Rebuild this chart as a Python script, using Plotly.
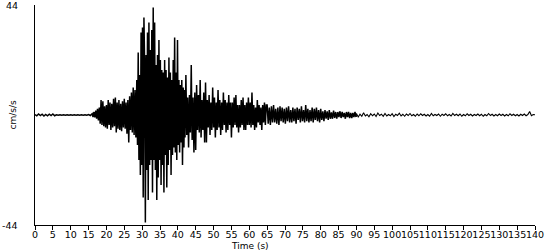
import numpy as np
import plotly.graph_objects as go

# ---- data: acceleration samples (cm/s/s) ----
# each segment: start time (s), sample step (s), values
pre_start, pre_dt = 0.0, 0.5
pre_event = [0.2, -0.3, 0.4, -0.2, 0.3, -0.4, 0.2, -0.3, 0.3, -0.2, 0.4, -0.3,
             0.1, -0.1, 0.1, -0.1, 0.1, -0.1, 0.1, -0.1, 0.1, -0.1, 0.1, -0.1,
             0.1, -0.1, 0.1, -0.1, 0.1, -0.1, 0.2, -0.2]

onset_start, onset_dt = 16.0, 0.25
onset = [0.5, -0.8, 1.2, -1.0, 1.8, -1.5, 2.5, -2.2, 3.0, -3.5, 6.0, -4.0,
         5.5, -4.5, 3.5, -5.0, 4.0, -5.5, 6.0, -4.0, 5.0, -6.0, 4.5, -5.0,
         6.5, -4.5, 7.0, -7.0, 5.0, -5.5, 6.0, -6.0, 4.5, -6.5, 5.5, -5.0,
         6.5, -5.5, 5.0, -7.5, 6.0, -11.0, 7.5, -6.0, 9.0, -7.0, 11.0, -8.0,
         10.0, -9.0]

strong_start, strong_dt = 28.5, 0.2
strong = [14, -12, 25, -18, 16, -24, 33, -20, 35, -33, 39, 20, -43, 24, -22,
          33, -34, 37, -20, 26, -18, 34, -31, 43, -18, 37, -22, 20, -34, 24,
          -25, 30, -18, 22, -28, 18, -20, 17, -31, 22, -16, 18, -29, 15, -20,
          23, -14, 17, -24, 14, -16, 22, -13, 31, -15, 17, -18, 30, -12, 14,
          -15, 12, -11, 14, -20, 11, -13, 10]

coda_start, coda_dt = 42.0, 0.25
coda = [-9, 16, -8, 7, -13, 8, -7, 20, -10, 7, -15, 9, -14, 12, -6, 8,
        -7, 14, -9, 6, -6, 9, -11, 13, -11, 6, -5, 8, -8, 5, -6, 11,
        -5, 7, -9, 5, -6, 10, -5, 6, -8, 5, -6, 9, -4, 6, -7, 5,
        -6, 8, -4, 5, -9, 5, -5, 7, -4, 8, -5, 4, -7, 4, -5, 6,
        -4, 7, -6, 4, -6, 5, -4, 7, -4, 5, -5, 9, -4, 4, -6, 3,
        -5, 6, -3, 4, -4, 3, -6, 4, -3, 5, -4, 4]

late_start, late_dt = 65.0, 0.3
late_coda = [4, -3.5, 3, -4, 3.5, -3, 4, -3, 2.5, -3.5,
             3, -4, 3.5, -2.5, 3, -3, 2.5, -3.5, 3, -2.5,
             3.5, -3, 2, -3, 3, -2.5, 2.5, -3.5, 3, -2,
             2.5, -3, 3.5, -2.5, 2, -3, 4, -2.5, 2.5, -3,
             2, -2.5, 3, -3, 2.5, -2, 3, -2.5, 2, -3,
             2.5, -2, 1.5, -2.5, 2, -1.5, 1.5, -2, 2, -1.5,
             1, -1.5, 1.8, -1.2, 1.2, -1.5, 1.2, -0.8, 1.5, -1.2,
             1.2, -0.8, 0.8, -1.5, 1.2, -0.8, 1.2, -1.2, 0.8, -1.2,
             0.8, -0.8, 1.2, -0.8]

tail_start, tail_dt = 90.0, 0.5
tail = [0.6, -0.8, 0.3, -0.5, 0.9, -0.4, 0.2, -0.7, 0.5, -0.3,
        0.4, -0.6, 0.8, -0.2, 0.3, -0.5, 0.6, -0.4, 0.2, -0.3,
        0.5, -0.6, 0.3, -0.2, 0.7, -0.4, 0.3, -0.5, 0.4, -0.2,
        0.6, -0.3, 0.2, -0.5, 0.4, -0.3, 0.5, -0.2, 0.3, -0.4,
        0.2, -0.5, 0.6, -0.3, 0.2, -0.2, 0.4, -0.5, 0.3, -0.2,
        0.5, -0.3, 0.2, -0.4, 0.6, -0.2, 0.3, -0.3, 0.4, -0.5,
        0.2, -0.3, 0.5, -0.2, 0.3, -0.4, 0.2, -0.2, 0.4, -0.3,
        0.3, -0.5, 0.2, -0.3, 0.6, -0.2, 0.3, -0.4, 0.2, -0.3,
        0.4, -0.2, 0.3, -0.4, 0.2, -0.3, 0.5, -0.2, 0.3, -0.3,
        0.2, -0.4, 0.3, -0.2, 0.4, -0.3, 0.2, 1.4, -0.3, 0.2, 0.1]

x_ticks = list(range(0, 141, 5))
y_ticks = [-44, 44]

main_segments = [(pre_start, pre_dt, pre_event), (onset_start, onset_dt, onset),
                 (strong_start, strong_dt, strong), (coda_start, coda_dt, coda),
                 (late_start, late_dt, late_coda)]


def build(segs):
    t, a = [], []
    for start, dt, vals in segs:
        t.extend(start + dt * np.arange(len(vals)))
        a.extend(vals)
    return t, a


t_main, a_main = build(main_segments)
t_tail, a_tail = build([(tail_start, tail_dt, tail)])
# join the tail to the last main sample
t_tail = [t_main[-1]] + list(t_tail)
a_tail = [a_main[-1]] + list(a_tail)

font = "DejaVu Sans, Verdana, sans-serif"

fig = go.Figure()
fig.add_trace(go.Scatter(x=t_main, y=a_main, mode="lines",
                         line=dict(color="black", width=1.5), hoverinfo="skip",
                         showlegend=False))
fig.add_trace(go.Scatter(x=t_tail, y=a_tail, mode="lines",
                         line=dict(color="black", width=1.1), hoverinfo="skip",
                         showlegend=False))

annotations = [
    dict(text=str(v), xref="paper", yref="y", x=-0.03, y=v,
         xanchor="right", yanchor="middle", showarrow=False,
         font=dict(size=9.5))
    for v in y_ticks
]
annotations += [
    dict(text="cm/s/s", textangle=-90, xref="paper", yref="paper",
         x=-0.045, y=0.5, xanchor="center", yanchor="middle",
         showarrow=False, font=dict(size=9)),
    dict(text="Time (s)", xref="paper", yref="paper",
         x=0.43, y=-0.095, xanchor="center", yanchor="middle",
         showarrow=False, font=dict(size=9)),
]

fig.update_layout(
    width=550, height=250,
    margin=dict(l=35, r=15, t=5, b=25),
    paper_bgcolor="white", plot_bgcolor="white",
    font=dict(family=font, size=9.5, color="black"),
    xaxis=dict(range=[0, 140], tickvals=x_ticks, ticktext=[str(v) for v in x_ticks],
               tickangle=0, ticks="outside", ticklen=4, tickcolor="black",
               showline=True, linecolor="black", linewidth=1,
               showgrid=False, zeroline=False, tickfont=dict(size=9.5),
               ticklabelstandoff=-3),
    yaxis=dict(range=[-44, 44], showticklabels=False,
               ticks="", showline=True, linecolor="black", linewidth=1,
               showgrid=False, zeroline=False),
    annotations=annotations,
)

fig.write_html("out.html")
